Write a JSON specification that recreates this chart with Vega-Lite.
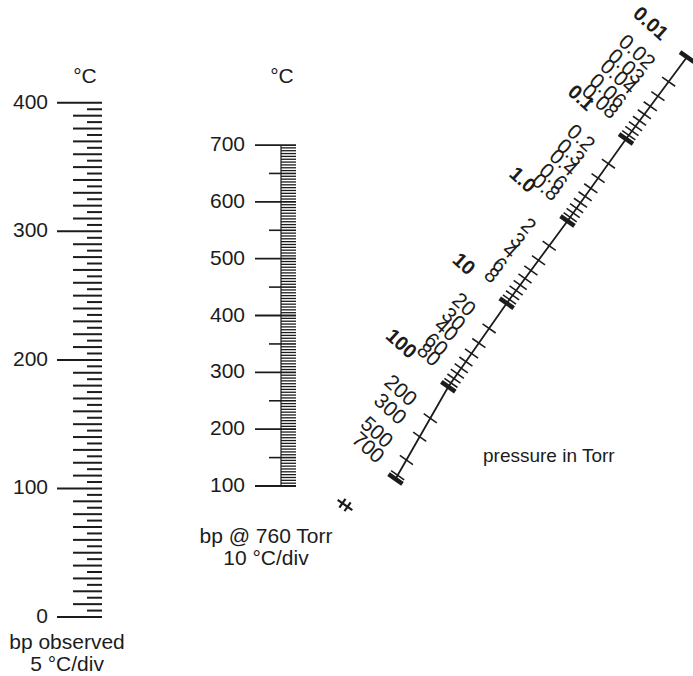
{
  "$schema": "https://vega.github.io/schema/vega-lite/v6.json",
  "width": 693,
  "height": 676,
  "padding": 0,
  "autosize": {"type": "none"},
  "config": {"view": {"stroke": null}, "text": {"font": "Liberation Sans", "fontSize": 21, "color": "#1c1c1c"}},
  "datasets": {
    "one": [{}],
    "leftT": [0,5,10,15,20,25,30,35,40,45,50,55,60,65,70,75,80,85,90,95,100,105,110,115,120,125,130,135,140,145,150,155,160,165,170,175,180,185,190,195,200,205,210,215,220,225,230,235,240,245,250,255,260,265,270,275,280,285,290,295,300,305,310,315,320,325,330,335,340,345,350,355,360,365,370,375,380,385,390,395,400],
    "midT": [100,105,110,115,120,125,130,135,140,145,150,155,160,165,170,175,180,185,190,195,200,205,210,215,220,225,230,235,240,245,250,255,260,265,270,275,280,285,290,295,300,305,310,315,320,325,330,335,340,345,350,355,360,365,370,375,380,385,390,395,400,405,410,415,420,425,430,435,440,445,450,455,460,465,470,475,480,485,490,495,500,505,510,515,520,525,530,535,540,545,550,555,560,565,570,575,580,585,590,595,600,605,610,615,620,625,630,635,640,645,650,655,660,665,670,675,680,685,690,695,700],
    "pLine": [{"p": 0.01}, {"p": 0.1}, {"p": 1}, {"p": 10}, {"p": 100}, {"p": 760}],
    "pMinor": [{"p": 0.02}, {"p": 0.03}, {"p": 0.04}, {"p": 0.05}, {"p": 0.06}, {"p": 0.07}, {"p": 0.08}, {"p": 0.09},
               {"p": 0.2}, {"p": 0.3}, {"p": 0.4}, {"p": 0.5}, {"p": 0.6}, {"p": 0.7}, {"p": 0.8}, {"p": 0.9},
               {"p": 2}, {"p": 3}, {"p": 4}, {"p": 5}, {"p": 6}, {"p": 7}, {"p": 8}, {"p": 9},
               {"p": 20}, {"p": 30}, {"p": 40}, {"p": 50}, {"p": 60}, {"p": 70}, {"p": 80}, {"p": 90},
               {"p": 200}, {"p": 300}, {"p": 500}, {"p": 700}],
    "pMinorLabels": [{"p": 0.02, "label": "0.02"}, {"p": 0.03, "label": "0.03"}, {"p": 0.04, "label": "0.04"}, {"p": 0.06, "label": "0.06"}, {"p": 0.08, "label": "0.08"},
                     {"p": 0.2, "label": "0.2"}, {"p": 0.3, "label": "0.3"}, {"p": 0.4, "label": "0.4"}, {"p": 0.6, "label": "0.6"}, {"p": 0.8, "label": "0.8"},
                     {"p": 2, "label": "2"}, {"p": 3, "label": "3"}, {"p": 4, "label": "4"}, {"p": 6, "label": "6"}, {"p": 8, "label": "8"},
                     {"p": 20, "label": "20"}, {"p": 30, "label": "30"}, {"p": 40, "label": "40"}, {"p": 60, "label": "60"}, {"p": 80, "label": "80"},
                     {"p": 200, "label": "200"}, {"p": 300, "label": "300"}, {"p": 500, "label": "500"}, {"p": 700, "label": "700"}],
    "pDecadeLabels": [{"p": 0.1, "label": "0.1"}, {"p": 1, "label": "1.0"}, {"p": 10, "label": "10"}, {"p": 100, "label": "100"}],
    "pTopLabel": [{"p": 0.01, "label": "0.01"}]
  },
  "layer": [
    {
      "data": {"name": "leftT"},
      "layer": [
        {
          "transform": [{"filter": "datum.data % 100 === 0"}],
          "mark": {"type": "rule", "strokeWidth": 2, "color": "#1c1c1c"},
          "encoding": {
            "y": {"field": "data", "type": "quantitative", "scale": {"domain": [-45.9, 480], "zero": false, "nice": false}, "axis": null},
            "x": {"datum": 57, "type": "quantitative", "scale": {"domain": [0, 693], "zero": false, "nice": false}, "axis": null},
            "x2": {"datum": 102}
          }
        },
        {
          "transform": [{"filter": "datum.data % 10 === 0 && datum.data % 100 !== 0"}],
          "mark": {"type": "rule", "strokeWidth": 2, "color": "#1c1c1c"},
          "encoding": {
            "y": {"field": "data", "type": "quantitative", "scale": {"domain": [-45.9, 480], "zero": false, "nice": false}, "axis": null},
            "x": {"datum": 73, "type": "quantitative", "scale": {"domain": [0, 693], "zero": false, "nice": false}, "axis": null},
            "x2": {"datum": 102}
          }
        },
        {
          "transform": [{"filter": "datum.data % 10 !== 0"}],
          "mark": {"type": "rule", "strokeWidth": 2, "color": "#1c1c1c"},
          "encoding": {
            "y": {"field": "data", "type": "quantitative", "scale": {"domain": [-45.9, 480], "zero": false, "nice": false}, "axis": null},
            "x": {"datum": 87, "type": "quantitative", "scale": {"domain": [0, 693], "zero": false, "nice": false}, "axis": null},
            "x2": {"datum": 102}
          }
        },
        {
          "transform": [{"filter": "datum.data % 100 === 0"}],
          "mark": {"type": "text", "align": "right", "baseline": "middle"},
          "encoding": {
            "y": {"field": "data", "type": "quantitative", "scale": {"domain": [-45.9, 480], "zero": false, "nice": false}, "axis": null},
            "x": {"datum": 48, "type": "quantitative", "scale": {"domain": [0, 693], "zero": false, "nice": false}, "axis": null},
            "text": {"field": "data", "type": "quantitative"}
          }
        },
        {
          "data": {"name": "one"},
          "mark": {"type": "text", "align": "center", "baseline": "middle", "text": "°C"},
          "encoding": {
            "y": {"datum": 420, "type": "quantitative", "scale": {"domain": [-45.9, 480], "zero": false, "nice": false}, "axis": null},
            "x": {"datum": 85, "type": "quantitative", "scale": {"domain": [0, 693], "zero": false, "nice": false}, "axis": null}
          }
        },
        {
          "data": {"name": "one"},
          "mark": {"type": "text", "align": "center", "baseline": "middle", "lineHeight": 22, "text": ["bp observed", "5 °C/div"]},
          "encoding": {
            "y": {"datum": -20.2, "type": "quantitative", "scale": {"domain": [-45.9, 480], "zero": false, "nice": false}, "axis": null},
            "x": {"datum": 67, "type": "quantitative", "scale": {"domain": [0, 693], "zero": false, "nice": false}, "axis": null}
          }
        }
      ]
    },
    {
      "data": {"name": "midT"},
      "layer": [
        {
          "data": {"name": "one"},
          "mark": {"type": "rule", "strokeWidth": 1.2, "color": "#1c1c1c"},
          "encoding": {
            "y": {"datum": 100, "type": "quantitative", "scale": {"domain": [-234.3, 955.2], "zero": false, "nice": false}, "axis": null},
            "y2": {"datum": 700},
            "x": {"datum": 281, "type": "quantitative", "scale": {"domain": [0, 693], "zero": false, "nice": false}, "axis": null}
          }
        },
        {
          "transform": [{"filter": "datum.data % 100 === 0"}],
          "mark": {"type": "rule", "strokeWidth": 1.8, "color": "#1c1c1c"},
          "encoding": {
            "y": {"field": "data", "type": "quantitative", "scale": {"domain": [-234.3, 955.2], "zero": false, "nice": false}, "axis": null},
            "x": {"datum": 255, "type": "quantitative", "scale": {"domain": [0, 693], "zero": false, "nice": false}, "axis": null},
            "x2": {"datum": 296}
          }
        },
        {
          "transform": [{"filter": "datum.data % 50 === 0 && datum.data % 100 !== 0"}],
          "mark": {"type": "rule", "strokeWidth": 1.6, "color": "#1c1c1c"},
          "encoding": {
            "y": {"field": "data", "type": "quantitative", "scale": {"domain": [-234.3, 955.2], "zero": false, "nice": false}, "axis": null},
            "x": {"datum": 269, "type": "quantitative", "scale": {"domain": [0, 693], "zero": false, "nice": false}, "axis": null},
            "x2": {"datum": 296}
          }
        },
        {
          "transform": [{"filter": "datum.data % 50 !== 0"}],
          "mark": {"type": "rule", "strokeWidth": 1.3, "color": "#1c1c1c"},
          "encoding": {
            "y": {"field": "data", "type": "quantitative", "scale": {"domain": [-234.3, 955.2], "zero": false, "nice": false}, "axis": null},
            "x": {"datum": 281, "type": "quantitative", "scale": {"domain": [0, 693], "zero": false, "nice": false}, "axis": null},
            "x2": {"datum": 296}
          }
        },
        {
          "transform": [{"filter": "datum.data % 100 === 0"}],
          "mark": {"type": "text", "align": "right", "baseline": "middle"},
          "encoding": {
            "y": {"field": "data", "type": "quantitative", "scale": {"domain": [-234.3, 955.2], "zero": false, "nice": false}, "axis": null},
            "x": {"datum": 245, "type": "quantitative", "scale": {"domain": [0, 693], "zero": false, "nice": false}, "axis": null},
            "text": {"field": "data", "type": "quantitative"}
          }
        },
        {
          "data": {"name": "one"},
          "mark": {"type": "text", "align": "center", "baseline": "middle", "text": "°C"},
          "encoding": {
            "y": {"datum": 820, "type": "quantitative", "scale": {"domain": [-234.3, 955.2], "zero": false, "nice": false}, "axis": null},
            "x": {"datum": 282, "type": "quantitative", "scale": {"domain": [0, 693], "zero": false, "nice": false}, "axis": null}
          }
        },
        {
          "data": {"name": "one"},
          "mark": {"type": "text", "align": "center", "baseline": "middle", "lineHeight": 22, "text": ["bp @ 760 Torr", "10 °C/div"]},
          "encoding": {
            "y": {"datum": 10, "type": "quantitative", "scale": {"domain": [-234.3, 955.2], "zero": false, "nice": false}, "axis": null},
            "x": {"datum": 266, "type": "quantitative", "scale": {"domain": [0, 693], "zero": false, "nice": false}, "axis": null}
          }
        }
      ]
    },
    {
      "layer": [
        {
          "data": {"name": "pLine"},
          "mark": {"type": "line", "strokeWidth": 1.8, "color": "#1c1c1c"},
          "encoding": {
            "x": {"field": "p", "type": "quantitative", "scale": {"type": "log", "domain": [0.01, 0.1, 1, 10, 100, 760], "range": [687, 626, 567.5, 506.7, 448.3, 395.5], "nice": false, "zero": false}, "axis": null},
            "y": {"field": "p", "type": "quantitative", "scale": {"type": "log", "domain": [0.01, 0.1, 1, 10, 100, 760], "range": [57, 139, 221, 303.3, 386.7, 479], "nice": false, "zero": false}, "axis": null}
          }
        },
        {
          "data": {"name": "pLine"},
          "mark": {"type": "point", "shape": "M-1,0L1,0", "angle": 35, "size": 289, "filled": false, "stroke": "#1c1c1c", "strokeWidth": 4.5, "opacity": 1},
          "encoding": {
            "x": {"field": "p", "type": "quantitative", "scale": {"type": "log", "domain": [0.01, 0.1, 1, 10, 100, 760], "range": [687, 626, 567.5, 506.7, 448.3, 395.5], "nice": false, "zero": false}, "axis": null},
            "y": {"field": "p", "type": "quantitative", "scale": {"type": "log", "domain": [0.01, 0.1, 1, 10, 100, 760], "range": [57, 139, 221, 303.3, 386.7, 479], "nice": false, "zero": false}, "axis": null}
          }
        },
        {
          "data": {"name": "pMinor"},
          "mark": {"type": "point", "shape": "M-1,0L1,0", "angle": 35, "size": 256, "filled": false, "stroke": "#1c1c1c", "strokeWidth": 1.6, "opacity": 1},
          "encoding": {
            "x": {"field": "p", "type": "quantitative", "scale": {"type": "log", "domain": [0.01, 0.1, 1, 10, 100, 760], "range": [687, 626, 567.5, 506.7, 448.3, 395.5], "nice": false, "zero": false}, "axis": null},
            "y": {"field": "p", "type": "quantitative", "scale": {"type": "log", "domain": [0.01, 0.1, 1, 10, 100, 760], "range": [57, 139, 221, 303.3, 386.7, 479], "nice": false, "zero": false}, "axis": null}
          }
        },
        {
          "data": {"name": "pMinorLabels"},
          "mark": {"type": "text", "angle": 42, "align": "right", "baseline": "middle", "dx": -23, "fontSize": 21},
          "encoding": {
            "x": {"field": "p", "type": "quantitative", "scale": {"type": "log", "domain": [0.01, 0.1, 1, 10, 100, 760], "range": [687, 626, 567.5, 506.7, 448.3, 395.5], "nice": false, "zero": false}, "axis": null},
            "y": {"field": "p", "type": "quantitative", "scale": {"type": "log", "domain": [0.01, 0.1, 1, 10, 100, 760], "range": [57, 139, 221, 303.3, 386.7, 479], "nice": false, "zero": false}, "axis": null},
            "text": {"field": "label", "type": "nominal"}
          }
        },
        {
          "data": {"name": "pDecadeLabels"},
          "mark": {"type": "text", "angle": 42, "align": "right", "baseline": "middle", "dx": -47, "fontSize": 20, "fontWeight": "bold"},
          "encoding": {
            "x": {"field": "p", "type": "quantitative", "scale": {"type": "log", "domain": [0.01, 0.1, 1, 10, 100, 760], "range": [687, 626, 567.5, 506.7, 448.3, 395.5], "nice": false, "zero": false}, "axis": null},
            "y": {"field": "p", "type": "quantitative", "scale": {"type": "log", "domain": [0.01, 0.1, 1, 10, 100, 760], "range": [57, 139, 221, 303.3, 386.7, 479], "nice": false, "zero": false}, "axis": null},
            "text": {"field": "label", "type": "nominal"}
          }
        },
        {
          "data": {"name": "pTopLabel"},
          "mark": {"type": "text", "angle": 42, "align": "right", "baseline": "middle", "dx": -30, "fontSize": 20, "fontWeight": "bold"},
          "encoding": {
            "x": {"field": "p", "type": "quantitative", "scale": {"type": "log", "domain": [0.01, 0.1, 1, 10, 100, 760], "range": [687, 626, 567.5, 506.7, 448.3, 395.5], "nice": false, "zero": false}, "axis": null},
            "y": {"field": "p", "type": "quantitative", "scale": {"type": "log", "domain": [0.01, 0.1, 1, 10, 100, 760], "range": [57, 139, 221, 303.3, 386.7, 479], "nice": false, "zero": false}, "axis": null},
            "text": {"field": "label", "type": "nominal"}
          }
        }
      ]
    },
    {
      "data": {"name": "one"},
      "layer": [
        {
          "mark": {"type": "text", "align": "left", "baseline": "middle", "text": "pressure in Torr", "fontSize": 19},
          "encoding": {
            "x": {"datum": 483, "type": "quantitative", "scale": {"domain": [0, 693], "zero": false, "nice": false}, "axis": null},
            "y": {"datum": 456, "type": "quantitative", "scale": {"domain": [0, 676], "reverse": true, "zero": false, "nice": false}, "axis": null}
          }
        },
        {
          "mark": {"type": "point", "shape": "M-1,0L1,0M-0.35,-0.6L-0.35,0.6M0.35,-0.6L0.35,0.6", "angle": 35, "size": 320, "filled": false, "stroke": "#1c1c1c", "strokeWidth": 2.2, "opacity": 1},
          "encoding": {
            "x": {"datum": 345, "type": "quantitative", "scale": {"domain": [0, 693], "zero": false, "nice": false}, "axis": null},
            "y": {"datum": 505, "type": "quantitative", "scale": {"domain": [0, 676], "reverse": true, "zero": false, "nice": false}, "axis": null}
          }
        }
      ]
    }
  ],
  "resolve": {"scale": {"x": "independent", "y": "independent"}}
}
